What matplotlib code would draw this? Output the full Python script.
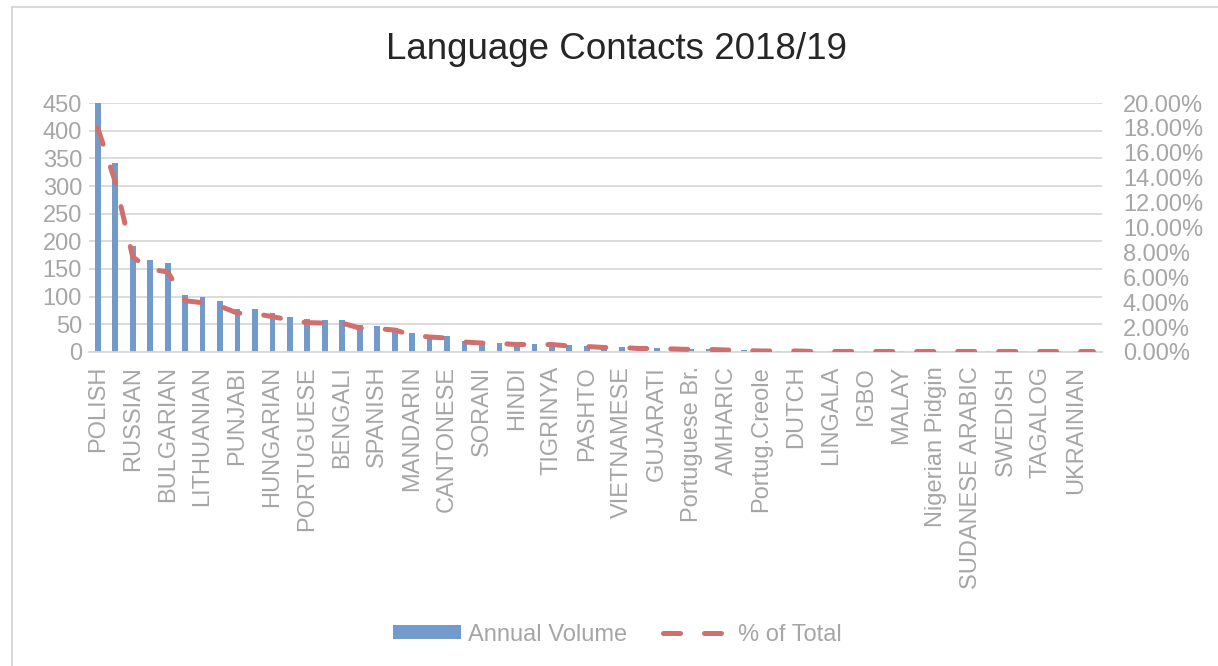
import numpy as np
import matplotlib
matplotlib.use('Agg')
import matplotlib.pyplot as plt
from matplotlib.ticker import FuncFormatter, MultipleLocator

plt.rcParams['font.family'] = ['Liberation Sans', 'DejaVu Sans']

# labelled categories sit on even positions, the ones in between are not shown on the axis
languages = ['POLISH', 'ROMANIAN', 'RUSSIAN', 'LATVIAN', 'BULGARIAN', 'SLOVAK',
             'LITHUANIAN', 'URDU', 'PUNJABI', 'CZECH', 'HUNGARIAN', 'KURDISH',
             'PORTUGUESE', 'ARABIC', 'BENGALI', 'FARSI', 'SPANISH', 'FRENCH',
             'MANDARIN', 'ITALIAN', 'CANTONESE', 'TURKISH', 'SORANI', 'ALBANIAN',
             'HINDI', 'SOMALI', 'TIGRINYA', 'DARI', 'PASHTO', 'GREEK',
             'VIETNAMESE', 'TAMIL', 'GUJARATI', 'GERMAN', 'Portuguese Br.', 'THAI',
             'AMHARIC', 'KOREAN', 'Portug.Creole', 'JAPANESE', 'DUTCH', 'SWAHILI',
             'LINGALA', 'SERBIAN', 'IGBO', 'NEPALESE', 'MALAY', 'YORUBA',
             'Nigerian Pidgin', 'ESTONIAN', 'SUDANESE ARABIC', 'SINHALA', 'SWEDISH', 'TWI',
             'TAGALOG', 'TETUM', 'UKRAINIAN', 'WOLOF']
volume = [450, 342, 191, 166, 161, 103, 99, 92, 78, 77, 71, 64, 59, 58, 58,
          48, 47, 44, 34, 30, 28, 20, 18, 17, 15, 15, 15, 12, 11, 9,
          9, 7, 7, 6, 5, 5, 4, 3, 2, 2, 2, 1, 1, 1, 1,
          1, 1, 1, 1, 1, 1, 1, 1, 1, 1, 1, 1, 1]

vol = np.array(volume, dtype=float)
pct = vol / vol.sum() * 100
x = np.arange(len(languages))

bar_col = '#729bcb'
line_col = '#cf6f6e'
txt_col = '#a6a6a6'
grid_col = '#d9d9d9'
fs = 17

fig = plt.figure(figsize=(12.18, 6.66), dpi=100)
ax = fig.add_axes([0.0731, 0.4715, 0.8317, 0.3738])
ax2 = ax.twinx()

bars = ax.bar(x, vol, width=0.33, color=bar_col, zorder=2, label='Annual Volume')
ln, = ax2.plot(x, pct, color=line_col, lw=3.6, solid_capstyle='round',
               dash_capstyle='round', label='% of Total', zorder=3)
ln.set_dashes([3.4, 4.8])

ax.set_xlim(-0.5, len(languages) - 0.5)
ax.set_ylim(0, 450)
ax2.set_ylim(0, 20)
ax.yaxis.set_major_locator(MultipleLocator(50))
ax2.yaxis.set_major_locator(MultipleLocator(2))
ax2.yaxis.set_major_formatter(FuncFormatter(lambda v, p: f'{v:.2f}%'))

ax.set_xticks(x[::2])
ax.set_xticklabels(languages[::2], rotation=90)
ax.grid(axis='y', color=grid_col, lw=1.3, zorder=0)
ax.set_axisbelow(True)
ax2.set_zorder(ax.get_zorder() + 1)
ax2.patch.set_visible(False)

for a in (ax, ax2):
    for s in a.spines.values():
        s.set_visible(False)
    a.tick_params(length=0, labelsize=fs, labelcolor=txt_col)
ax.spines['bottom'].set_visible(True)
ax.spines['bottom'].set_color(grid_col)
ax.spines['bottom'].set_linewidth(1.3)
ax.tick_params(axis='y', pad=5)
ax.tick_params(axis='x', pad=10)
ax2.tick_params(axis='y', pad=15)

fig.text(0.506, 0.925, 'Language Contacts 2018/19', ha='center', va='center',
         fontsize=26.5, color='#262626')

fig.legend(handles=[bars, ln], loc='center', bbox_to_anchor=(0.507, 0.047), ncol=2,
           frameon=False, fontsize=fs, labelcolor=txt_col, handlelength=2.9,
           handleheight=0.55, handletextpad=0.3, columnspacing=1.5)

# chart frame (only left and top edges inside the crop)
fig.add_artist(plt.Line2D([0.0095, 0.0095], [0, 0.99], color=grid_col, lw=1.5,
                          transform=fig.transFigure))
fig.add_artist(plt.Line2D([0.0095, 1], [0.99, 0.99], color=grid_col, lw=1.5,
                          transform=fig.transFigure))

fig.savefig('out.png', dpi=100)
plt.close('all')
